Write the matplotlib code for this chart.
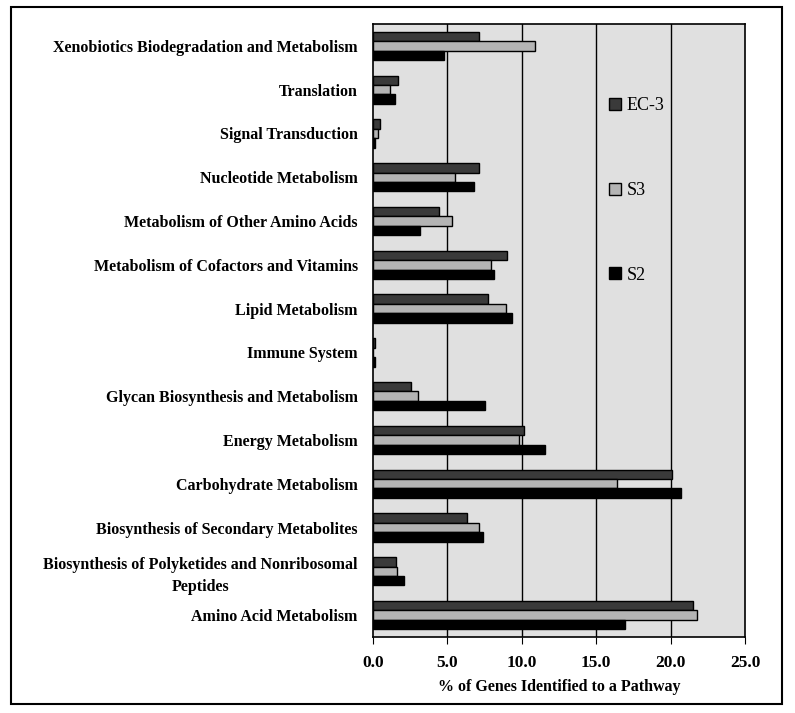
import matplotlib
matplotlib.use('Agg')
import matplotlib.pyplot as plt
import numpy as np
from matplotlib.patches import Rectangle

# pathways, bottom to top as drawn
pathways = [
    'Amino Acid Metabolism',
    'Biosynthesis of Polyketides and Nonribosomal\nPeptides',
    'Biosynthesis of Secondary Metabolites',
    'Carbohydrate Metabolism',
    'Energy Metabolism',
    'Glycan Biosynthesis and Metabolism',
    'Immune System',
    'Lipid Metabolism',
    'Metabolism of Cofactors and Vitamins',
    'Metabolism of Other Amino Acids',
    'Nucleotide Metabolism',
    'Signal Transduction',
    'Translation',
    'Xenobiotics Biodegradation and Metabolism',
]

ec3 = [21.5, 1.54, 6.35, 20.1, 10.12, 2.53, 0.12, 7.73, 9.03, 4.45, 7.15, 0.45, 1.65, 7.15]
s3 = [21.8, 1.63, 7.13, 16.4, 9.79, 3.04, 0.0, 8.91, 7.93, 5.34, 5.5, 0.31, 1.12, 10.9]
s2 = [16.96, 2.08, 7.37, 20.73, 11.55, 7.55, 0.12, 9.34, 8.15, 3.15, 6.77, 0.16, 1.47, 4.76]

xticks = [0, 5, 10, 15, 20, 25]

plt.rcParams['font.family'] = ['Liberation Serif', 'DejaVu Serif']

fig = plt.figure(figsize=(7.95, 7.13), dpi=100)
ax = fig.add_axes([373/795, 1 - 637/713, 372/795, 613/713])
ax.set_facecolor('#e0e0e0')

y = np.arange(len(pathways))
h = 0.215
ax.barh(y + h, ec3, height=h, color='#3a3a3a', edgecolor='black', linewidth=1, label='EC-3', zorder=3)
ax.barh(y, s3, height=h, color='#b4b4b4', edgecolor='black', linewidth=1, label='S3', zorder=3)
ax.barh(y - h, s2, height=h, color='black', edgecolor='black', linewidth=1, label='S2', zorder=3)

for v in xticks[1:-1]:
    ax.axvline(v, color='black', lw=1, zorder=1)

ax.set_xlim(0, 25)
ax.set_ylim(-0.5, len(pathways) - 0.5)
ax.set_xticks(xticks)
ax.set_xticklabels([f'{v:.1f}' for v in xticks], fontsize=12.5, fontweight='bold')
ax.set_yticks(y)
ax.set_yticklabels(pathways, fontsize=11.5, fontweight='bold', ha='right',
                   multialignment='center', linespacing=1.45)
ax.tick_params(axis='y', length=0, pad=11)
ax.tick_params(axis='x', length=5, direction='out', pad=8)
ax.set_xlabel('% of Genes Identified to a Pathway', fontsize=11.5, fontweight='bold', labelpad=6)

for s in ax.spines.values():
    s.set_linewidth(1.2)

leg = ax.legend(loc='upper left', bbox_to_anchor=(0.592, 0.907), frameon=False,
                fontsize=13, handlelength=0.65, handleheight=0.65, handletextpad=0.3,
                labelspacing=3.75)

fig.patches.append(Rectangle((11/795, 1 - 704/713), 771/795, 697/713,
                             transform=fig.transFigure, fill=False, lw=1.5,
                             edgecolor='black'))

fig.savefig('out.png', dpi=100)
